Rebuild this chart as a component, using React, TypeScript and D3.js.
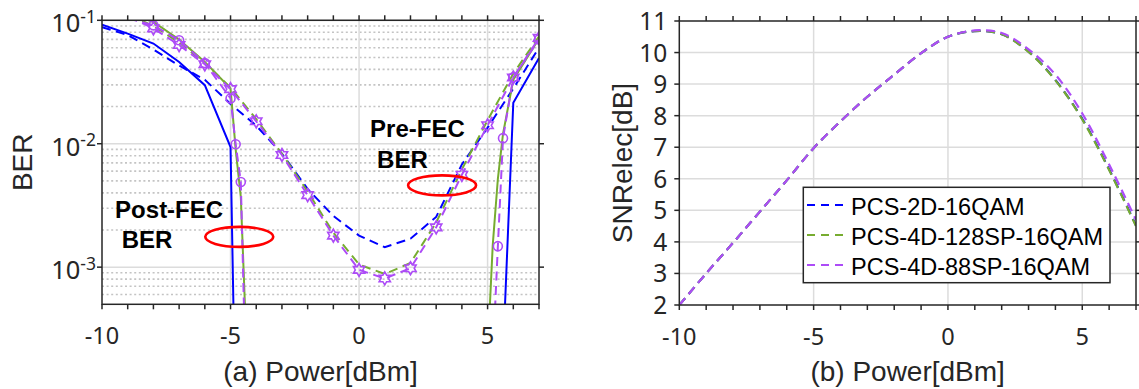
import React from 'react';
import * as d3 from 'd3';

// ---------- Data: left panel (BER vs launch power) ----------
const powerPre = [-10, -9, -8, -7, -6, -5, -4, -3, -2, -1, 0, 1, 2, 3, 4, 5, 6, 7];
const berPre2D = [0.088, 0.076, 0.058, 0.043, 0.033, 0.021, 0.014, 0.0083, 0.0043, 0.0026, 0.0018, 0.00145, 0.0017, 0.00255, 0.0068, 0.0135, 0.028, 0.06];
const berPre128 = [0.135, 0.112, 0.09, 0.066, 0.045, 0.0285, 0.0158, 0.0083, 0.0041, 0.0019, 0.00105, 0.00088, 0.00108, 0.0023, 0.0062, 0.0155, 0.037, 0.074];
const berPre88 = [0.13, 0.108, 0.086, 0.063, 0.044, 0.0277, 0.0152, 0.0081, 0.00383, 0.0018, 0.00095, 0.00081, 0.00098, 0.0021, 0.0056, 0.0141, 0.0344, 0.072];

const powerPost = [-10, -9, -8, -7, -6, -5, -4.8, -4.6, -4.4, 5, 5.2, 5.4, 5.6, 6, 7];
const berPost2D = [0.0923, 0.078, 0.0648, 0.046, 0.0298, 0.0094, 5e-5, 1e-7, 1e-7, 1e-7, 1e-7, 1e-7, 2e-4, 0.0215, 0.0495];
const berPost128 = [0.14, 0.115, 0.097, 0.07, 0.046, 0.028, 0.009, 0.0037, 3e-4, 2e-4, 0.0015, 0.0052, 0.012, 0.033, 0.071];
const berPost88 = [0.13, 0.104, 0.091, 0.069, 0.045, 0.0233, 0.0099, 0.0049, 1.1e-4, 1e-7, 1.8e-4, 0.00148, 0.0111, 0.0345, 0.07];

// ---------- Data: right panel (SNRelec vs launch power) ----------
const powerSNR = [-10, -9, -8, -7, -6, -5, -4, -3, -2, -1, 0, 1, 2, 3, 4, 5, 6, 7];
const snr2D = [2.0, 3.0, 3.97, 4.96, 5.95, 6.97, 7.82, 8.6, 9.3, 9.98, 10.5, 10.68, 10.58, 10.03, 9.13, 7.9, 6.3, 4.52];
const snr128 = [2.0, 3.0, 3.97, 4.96, 5.95, 6.97, 7.82, 8.6, 9.3, 9.98, 10.5, 10.68, 10.58, 10.02, 9.12, 7.88, 6.28, 4.5];
const snr88 = [2.0, 3.0, 3.97, 4.96, 5.95, 6.97, 7.82, 8.6, 9.3, 9.98, 10.5, 10.7, 10.62, 10.1, 9.3, 8.07, 6.45, 4.7];

// ---------- Ticks & labels ----------
const powerTicksMajor = [-10, -5, 0, 5];
const powerTicksMinor = d3.range(-10, 8, 1);
const berDecades = [1e-3, 1e-2, 1e-1];
const berExponents = ['-3', '-2', '-1'];
const snrTicks = [2, 3, 4, 5, 6, 7, 8, 9, 10, 11];
const legendLabels = ['PCS-2D-16QAM', 'PCS-4D-128SP-16QAM', 'PCS-4D-88SP-16QAM'];

// annotations in data coordinates
const postFecLabel = { x: -9.49, y: 0.00248, x2: -9.23, y2: 0.00142, ex: -4.66, ey: 0.00176 };
const preFecLabel = { x: 0.43, y: 0.0114, x2: 0.7, y2: 0.0063, ex: 3.23, ey: 0.0046 };

// ---------- Styles ----------
const BLUE = '#0000ff';
const GREEN = '#77ac30';
const PURPLE = '#ad4cf7';
const AXIS = '#262626';
const GRID = '#dcdcdc';
const MINOR = '#c4c4c4';
const TICKFONT = "'Noto Sans', 'Open Sans', sans-serif";
const LABELFONT = "'Liberation Sans', Arial, sans-serif";

function hexagramPath(cx: number, cy: number, R: number) {
  const r = R / Math.sqrt(3);
  const pts: string[] = [];
  for (let i = 0; i < 12; i++) {
    const a = -Math.PI / 2 + (i * Math.PI) / 6;
    const rad = i % 2 === 0 ? R : r;
    pts.push(`${cx + rad * Math.cos(a)},${cy + rad * Math.sin(a)}`);
  }
  return 'M' + pts.join('L') + 'Z';
}

export default function App() {
  const W = 1139, H = 389;

  // Left panel scales
  const lx = d3.scaleLinear().domain([-10, 7]).range([102, 539]);
  const ly = d3.scaleLog().domain([5e-4, 0.1]).range([304.3, 20.3]);
  // Right panel scales
  const rx = d3.scaleLinear().domain([-10, 7]).range([679.3, 1136]);
  const ry = d3.scaleLinear().domain([2, 11]).range([305, 21]);

  const lineL = (xs: number[], ys: number[]) =>
    d3.line<number>().x((_, i) => lx(xs[i])).y((_, i) => ly(ys[i]))(ys as any) || '';
  const lineR = (xs: number[], ys: number[]) =>
    d3.line<number>().x((_, i) => rx(xs[i])).y((_, i) => ry(ys[i])).curve(d3.curveCatmullRom.alpha(0.5))(ys as any) || '';

  const inRange = (v: number) => v <= 0.1 + 1e-9 && v >= 5e-4;

  // minor log grid values
  const minorVals: number[] = [];
  [1e-4, 1e-3, 1e-2].forEach((d) => {
    for (let k = 2; k <= 9; k++) {
      const v = d * k;
      if (v > 5e-4 && v < 0.1) minorVals.push(v);
    }
  });

  const [lx0, lx1] = lx.range();
  const [ly0, ly1] = ly.range();
  const [rx0, rx1] = rx.range();
  const [ry0, ry1] = ry.range();
  const TL = 5;

  const dash = '9,5.5';

  return (
    <svg width={W} height={H} style={{ position: 'absolute', left: 0, top: 0, background: '#fff' }}>
      <defs>
        <clipPath id="clipL">
          <rect x={lx0} y={ly1} width={lx1 - lx0} height={ly0 - ly1} />
        </clipPath>
        <clipPath id="clipR">
          <rect x={rx0} y={ry1} width={rx1 - rx0} height={ry0 - ry1} />
        </clipPath>
      </defs>
      <rect x={0} y={0} width={W} height={H} fill="#fff" />

      {/* ================= LEFT PANEL ================= */}
      <g>
        {/* minor grid */}
        {minorVals.map((v, i) => (
          <line key={'mn' + i} x1={lx0} x2={lx1} y1={ly(v)} y2={ly(v)} stroke={MINOR} strokeWidth={1.6} strokeDasharray="2,2.6" />
        ))}
        {/* major grid */}
        {berDecades.map((v, i) => (
          <line key={'mjy' + i} x1={lx0} x2={lx1} y1={ly(v)} y2={ly(v)} stroke={GRID} strokeWidth={1.5} />
        ))}
        {powerTicksMajor.slice(1).map((v, i) => (
          <line key={'mjx' + i} x1={lx(v)} x2={lx(v)} y1={ly0} y2={ly1} stroke={GRID} strokeWidth={1.5} />
        ))}

        {/* data */}
        <g clipPath="url(#clipL)" fill="none" strokeWidth={2}>
          <path d={lineL(powerPre, berPre2D)} stroke={BLUE} strokeDasharray={dash} />
          <path d={lineL(powerPost, berPost2D)} stroke={BLUE} />
          <path d={lineL(powerPre, berPre128)} stroke={GREEN} strokeDasharray={dash} />
          <path d={lineL(powerPost, berPost128)} stroke={GREEN} />
          <path d={lineL(powerPre, berPre88)} stroke={PURPLE} strokeDasharray={dash} />
          <path d={lineL(powerPost, berPost88)} stroke={PURPLE} strokeDasharray={dash} />
          {powerPre.map((p, i) =>
            inRange(berPre88[i]) ? (
              <path key={'hx' + i} d={hexagramPath(lx(p), ly(berPre88[i]), 6.5)} stroke={PURPLE} strokeWidth={1.6} fill="none" />
            ) : null
          )}
          {powerPost.map((p, i) =>
            inRange(berPost88[i]) ? (
              <circle key={'ci' + i} cx={lx(p)} cy={ly(berPost88[i])} r={4.5} stroke={PURPLE} strokeWidth={1.6} fill="none" />
            ) : null
          )}
        </g>

        {/* annotations */}
        <g fontFamily={LABELFONT} fontWeight="bold" fontSize={24} fill="#000">
          <text x={lx(postFecLabel.x)} y={ly(postFecLabel.y)}>Post-FEC</text>
          <text x={lx(postFecLabel.x2)} y={ly(postFecLabel.y2)}>BER</text>
          <text x={lx(preFecLabel.x)} y={ly(preFecLabel.y)}>Pre-FEC</text>
          <text x={lx(preFecLabel.x2)} y={ly(preFecLabel.y2)}>BER</text>
        </g>
        <ellipse cx={lx(postFecLabel.ex)} cy={ly(postFecLabel.ey)} rx={34} ry={10} fill="none" stroke="#ff0000" strokeWidth={2.6} />
        <ellipse cx={lx(preFecLabel.ex)} cy={ly(preFecLabel.ey)} rx={34} ry={10} fill="none" stroke="#ff0000" strokeWidth={2.6} />

        {/* axes box */}
        <rect x={lx0} y={ly1} width={lx1 - lx0} height={ly0 - ly1} fill="none" stroke={AXIS} strokeWidth={1.5} />
        {powerTicksMinor.map((v, i) => (
          <g key={'lxt' + i}>
            <line x1={lx(v)} x2={lx(v)} y1={ly0} y2={ly0 + TL} stroke={AXIS} strokeWidth={1.5} />
            <line x1={lx(v)} x2={lx(v)} y1={ly1} y2={ly1 - TL} stroke={AXIS} strokeWidth={1.5} />
          </g>
        ))}
        {berDecades.map((v, i) => (
          <g key={'lyt' + i}>
            <line x1={lx0} x2={lx0 - TL} y1={ly(v)} y2={ly(v)} stroke={AXIS} strokeWidth={1.5} />
            <line x1={lx1} x2={lx1 + TL} y1={ly(v)} y2={ly(v)} stroke={AXIS} strokeWidth={1.5} />
          </g>
        ))}
        <g fontFamily={TICKFONT} fill={AXIS}>
          {powerTicksMajor.map((v, i) => (
            <text key={'lxl' + i} x={lx(v)} y={ly0 + 40} fontSize={23.5} textAnchor="middle">{v}</text>
          ))}
          {berDecades.map((v, i) => (
            <text key={'lyl' + i} x={lx0 - 6} y={ly(v) + 12} fontSize={25.5} textAnchor="end">
              10<tspan dy={-9.5} fontSize={17.5}>{berExponents[i]}</tspan>
            </text>
          ))}
        </g>
        <text x={(lx0 + lx1) / 2} y={381} fontFamily={LABELFONT} fontSize={28} fill={AXIS} textAnchor="middle">(a) Power[dBm]</text>
        <text transform={`translate(31.5,${(ly0 + ly1) / 2}) rotate(-90)`} fontFamily={LABELFONT} fontSize={28} fill={AXIS} textAnchor="middle">BER</text>
      </g>

      {/* ================= RIGHT PANEL ================= */}
      <g>
        {snrTicks.slice(1, -1).map((v, i) => (
          <line key={'rgy' + i} x1={rx0} x2={rx1} y1={ry(v)} y2={ry(v)} stroke={GRID} strokeWidth={1.5} />
        ))}
        {powerTicksMajor.slice(1).map((v, i) => (
          <line key={'rgx' + i} x1={rx(v)} x2={rx(v)} y1={ry0} y2={ry1} stroke={GRID} strokeWidth={1.5} />
        ))}
        <g clipPath="url(#clipR)" fill="none" strokeWidth={2.2} strokeDasharray={dash}>
          <path d={lineR(powerSNR, snr2D)} stroke={BLUE} />
          <path d={lineR(powerSNR, snr128)} stroke={GREEN} />
          <path d={lineR(powerSNR, snr88)} stroke={PURPLE} />
        </g>
        <rect x={rx0} y={ry1} width={rx1 - rx0} height={ry0 - ry1} fill="none" stroke={AXIS} strokeWidth={1.5} />
        {powerTicksMinor.map((v, i) => (
          <g key={'rxt' + i}>
            <line x1={rx(v)} x2={rx(v)} y1={ry0} y2={ry0 + TL} stroke={AXIS} strokeWidth={1.5} />
            <line x1={rx(v)} x2={rx(v)} y1={ry1} y2={ry1 - TL} stroke={AXIS} strokeWidth={1.5} />
          </g>
        ))}
        {snrTicks.map((v, i) => (
          <g key={'ryt' + i}>
            <line x1={rx0} x2={rx0 - TL} y1={ry(v)} y2={ry(v)} stroke={AXIS} strokeWidth={1.5} />
            <line x1={rx1} x2={rx1 + TL} y1={ry(v)} y2={ry(v)} stroke={AXIS} strokeWidth={1.5} />
          </g>
        ))}
        <g fontFamily={TICKFONT} fill={AXIS}>
          {powerTicksMajor.map((v, i) => (
            <text key={'rxl' + i} x={rx(v)} y={ry0 + 40} fontSize={23.5} textAnchor="middle">{v}</text>
          ))}
          {snrTicks.map((v, i) => (
            <text key={'ryl' + i} x={rx0 - 12} y={ry(v) + 9} fontSize={24.5} textAnchor="end">{v}</text>
          ))}
        </g>
        <text x={(rx0 + rx1) / 2} y={381} fontFamily={LABELFONT} fontSize={28} fill={AXIS} textAnchor="middle">(b) Power[dBm]</text>
        <text transform={`translate(632,${(ry0 + ry1) / 2}) rotate(-90)`} fontFamily={LABELFONT} fontSize={28} fill={AXIS} textAnchor="middle">SNRelec[dB]</text>

        {/* legend */}
        <g>
          <rect x={803.3} y={187.3} width={306.7} height={95.4} fill="#fff" stroke={AXIS} strokeWidth={1.5} />
          {legendLabels.map((lab, i) => {
            const yy = 205 + i * 30;
            const col = [BLUE, GREEN, PURPLE][i];
            return (
              <g key={'lg' + i}>
                <line x1={807} x2={847} y1={yy} y2={yy} stroke={col} strokeWidth={2.2} strokeDasharray="8,6" />
                <text x={851} y={yy + 10} fontFamily={LABELFONT} fontSize={23.5} fill="#000">{lab}</text>
              </g>
            );
          })}
        </g>
      </g>
    </svg>
  );
}
